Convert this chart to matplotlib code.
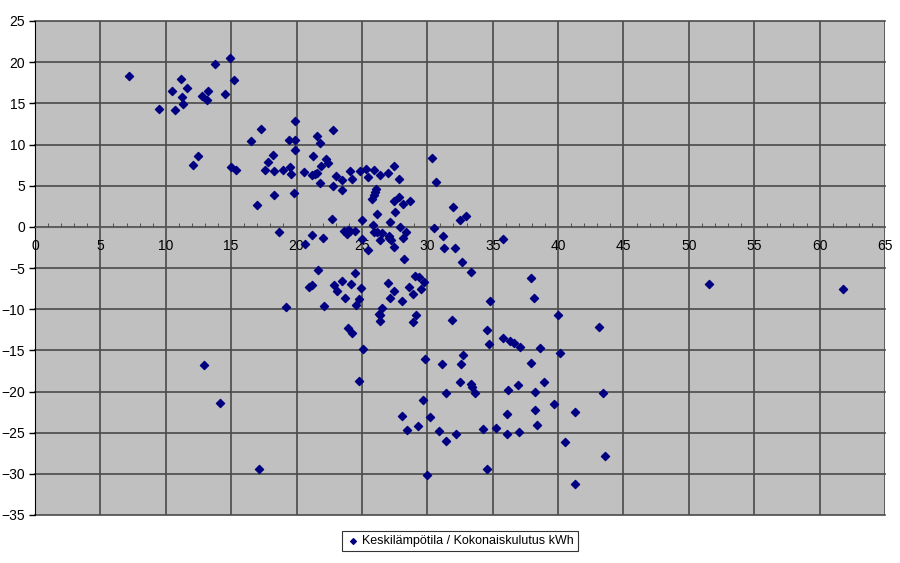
import matplotlib
matplotlib.use('Agg')
import matplotlib.pyplot as plt
from matplotlib.ticker import MultipleLocator

plt.rcParams['font.family'] = ['Liberation Sans', 'DejaVu Sans']

# data
x_vals = [7.2, 9.46, 10.5, 10.7, 11.2, 11.24, 11.34, 11.65, 12.05, 12.44,
          12.77, 13.2, 13.17, 13.79, 14.55, 14.88, 15.19, 14.96, 15.34, 16.54,
          17.25, 17.81, 18.17, 17.6, 18.27, 18.25, 19.0, 19.4, 19.47, 19.55,
          19.88, 19.88, 19.88, 19.82, 17.0, 18.68, 19.2, 20.6, 21.56, 22.76,
          21.8, 21.25, 22.25, 22.43, 21.84, 21.2, 21.38, 21.54, 21.77, 22.8,
          23.0, 23.5, 23.47, 24.08, 24.26, 24.87, 25.3, 25.5, 25.9, 26.35,
          26.96, 27.45, 27.85, 26.1, 26.0, 25.9, 25.74, 26.15, 27.45, 27.83,
          28.13, 28.65, 27.52, 25.0, 22.73, 27.12, 25.87, 27.9, 30.37, 30.66,
          32.0, 32.5, 32.95, 30.48, 20.64, 21.2, 22.0, 23.65, 23.83, 23.95,
          24.08, 23.83, 24.46, 24.97, 25.48, 25.94, 26.12, 26.5, 26.4, 27.09,
          27.09, 27.2, 27.42, 28.36, 28.16, 28.19, 31.17, 31.3, 32.14, 32.67,
          33.33, 21.66, 20.97, 21.2, 22.12, 22.84, 23.1, 23.45, 23.68, 24.2,
          24.44, 24.92, 24.75, 24.52, 23.95, 24.26, 25.1, 24.8, 26.96, 27.47,
          27.14, 26.55, 26.38, 26.28, 26.38, 28.1, 28.6, 29.05, 29.38, 29.5,
          29.77, 28.9, 29.15, 28.87, 31.86, 29.8, 31.1, 32.72, 32.57, 32.47,
          33.33, 33.45, 12.95, 31.45, 33.67, 29.67, 28.03, 30.17, 29.28, 28.42,
          30.87, 32.2, 31.43, 34.23, 35.22, 29.94, 34.6, 37.92, 38.15, 34.78,
          40.0, 43.12, 34.6, 34.7, 35.78, 36.3, 36.6, 37.08, 38.6, 40.14,
          37.92, 36.14, 36.93, 38.95, 38.23, 43.43, 39.66, 38.23, 41.26, 36.06,
          38.4, 36.06, 36.98, 40.5, 43.56, 41.3, 51.53, 61.8, 14.14, 17.15,
          35.8]
y_vals = [18.3, 14.35, 16.5, 14.15, 17.9, 15.8, 14.9, 16.9, 7.47, 8.56,
          15.93, 16.5, 15.4, 19.8, 16.1, 20.5, 17.83, 7.26, 6.9, 10.38,
          11.84, 7.87, 8.76, 6.9, 6.82, 3.86, 6.9, 10.5, 7.23, 6.41,
          12.85, 10.5, 9.37, 4.07, 2.68, -0.67, -9.74, 6.6, 11.07, 11.72,
          10.14, 8.64, 8.23, 7.75, 7.35, 6.29, 6.41, 6.54, 5.32, 5.0,
          6.13, 5.72, 4.43, 6.82, 5.8, 6.74, 6.98, 6.09, 6.86, 6.26,
          6.57, 7.35, 5.8, 4.55, 4.23, 3.9, 3.34, 1.6, 3.1, 3.66,
          2.73, 3.1, 1.8, 0.83, 0.9, 0.55, 0.18, 0.0, 8.4, 5.4,
          2.4, 0.83, 1.27, -0.15, -2.05, -1.0, -1.32, -0.51, -0.67, -0.35,
          -0.51, -0.91, -0.51, -1.48, -2.82, -0.67, -0.67, -0.79, -1.64, -1.08,
          -1.4, -1.57, -2.45, -0.6, -1.4, -3.87, -1.12, -2.6, -2.53, -4.24,
          -5.45, -5.25, -7.27, -7.07, -9.66, -7.1, -7.8, -6.62, -8.68, -6.98,
          -5.57, -7.47, -8.77, -9.46, -12.33, -12.86, -14.84, -18.7, -6.79, -7.8,
          -8.61, -9.82, -10.7, -10.63, -11.48, -9.05, -7.35, -5.98, -6.13, -7.55,
          -6.74, -8.2, -10.7, -11.5, -11.36, -16.05, -16.62, -15.57, -16.62, -18.9,
          -19.13, -19.4, -16.83, -20.15, -20.15, -21.04, -22.94, -23.06, -24.16, -24.68,
          -24.8, -25.13, -26.02, -24.56, -24.44, -30.15, -29.46, -6.18, -8.65, -8.97,
          -10.71, -12.17, -12.53, -14.23, -13.55, -13.87, -14.1, -14.64, -14.68, -15.33,
          -16.54, -19.82, -19.25, -18.85, -20.1, -20.23, -21.52, -22.29, -22.5, -22.74,
          -24.03, -25.13, -24.92, -26.1, -27.8, -31.2, -6.95, -7.6, -21.44, -29.46,
          -1.52]
series_name = 'Keskilämpötila / Kokonaiskulutus kWh'

fig = plt.figure(figsize=(9, 5.63), dpi=100)
ax = fig.add_axes([35/900, 1 - 515/563, 850/900, 494/563])
ax.set_facecolor('#c0c0c0')

ax.scatter(x_vals, y_vals, marker='D', s=17, color='#000080', zorder=3,
           label=series_name)

ax.set_xlim(0, 65)
ax.set_ylim(-35, 25)
ax.xaxis.set_major_locator(MultipleLocator(5))
ax.xaxis.set_minor_locator(MultipleLocator(1))
ax.yaxis.set_major_locator(MultipleLocator(5))

ax.grid(True, which='major', color='#4a4a4a', lw=1.2)
ax.set_axisbelow(True)
for gl in ax.get_xgridlines() + ax.get_ygridlines():
    gl.set_clip_on(False)

ax.spines['bottom'].set_position(('data', 0))
ax.spines['bottom'].set_color('#606060')
ax.spines['top'].set_visible(False)
ax.spines['right'].set_visible(False)
ax.spines['left'].set_color('black')

ax.tick_params(axis='x', which='major', length=0, pad=9, labelsize=10)
ax.tick_params(axis='x', which='minor', direction='in', length=3, color='#404040')
ax.tick_params(axis='y', length=4, width=1, labelsize=10, pad=3)

leg = fig.legend(loc='center', bbox_to_anchor=(460/900, 1 - 541/563),
                 frameon=True, fancybox=False, edgecolor='black', fontsize=9,
                 handletextpad=0.1, handlelength=1.2, markerscale=0.7,
                 borderpad=0.35)
leg.get_frame().set_linewidth(0.8)

fig.savefig('out.png', dpi=100)
